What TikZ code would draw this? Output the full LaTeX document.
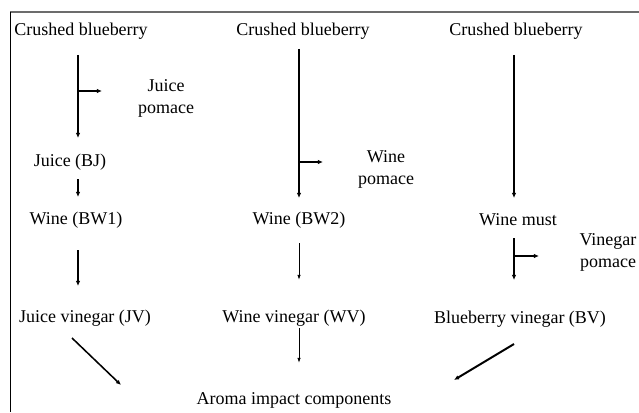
\documentclass[tikz,border=0pt]{standalone}
\usepackage{fontspec}
\setmainfont{Liberation Serif}
\usepackage{tikz}
\usetikzlibrary{arrows.meta,calc}

\tikzset{
  lbl/.style={font=\fontsize{12.8}{15.6}\selectfont, inner sep=0pt, align=center},
  flow/.style={-{Latex[length=3.6pt,width=3.2pt]}, line width=1.3pt},
  thinflow/.style={-{Latex[length=3.6pt,width=2.4pt]}, line width=0.6pt},
}

\begin{document}
\begin{tikzpicture}
          \useasboundingbox (0,0) rectangle (15.975,10.3);

          % Frame (top and left edge only)
          \draw[line width=1.4pt,gray!85!black] (0.25,10) -- (15.975,10);
          \draw[line width=0.7pt] (0.25,10) -- (0.25,0);

          % Starting material
          \foreach \n/\x in {cb1/2.025, cb2/7.575, cb3/12.9} {
              \node[lbl] (\n) at (\x,9.525) {Crushed blueberry};
          }

          % Products
          \node[lbl] (jp) at (4.15,7.85) {Juice\\pomace};
          \node[lbl] (bj) at (1.75,6.25) {Juice (BJ)};
          \node[lbl] (wp) at (9.65,6.075) {Wine\\pomace};
          \node[lbl] (bw1) at (1.9,4.8) {Wine (BW1)};
          \node[lbl] (bw2) at (7.475,4.8) {Wine (BW2)};
          \node[lbl] (wm) at (12.95,4.8) {Wine must};
          \node[lbl] (vp) at (15.2,4.0) {Vinegar\\pomace};
          \node[lbl] (jv) at (2.125,2.35) {Juice vinegar (JV)};
          \node[lbl] (wv) at (7.35,2.35) {Wine vinegar (WV)};
          \node[lbl] (bv) at (13.0,2.325) {Blueberry vinegar (BV)};
          \node[lbl] (aic) at (7.35,0.3) {Aroma impact components};

          % Arrow end points
          \foreach \n/\x/\y in {
              p1/1.95/8.925, p2/1.95/6.85, q1/1.95/8.025, q2/2.55/8.025,
            p3/1.95/5.825, p4/1.95/5.375, p5/1.95/4.05, p6/1.95/3.15,
            d1/1.8/1.85, d2/3.025/0.675,
            r1/7.475/9.075, r2/7.475/5.35, s1/7.475/6.25, s2/8.075/6.25,
            r3/7.475/4.225, r4/7.475/3.3, r5/7.475/2.1, r6/7.475/1.225,
            t1/12.85/8.925, t2/12.85/5.35, t3/12.85/4.35, t4/12.85/3.3,
            u1/12.85/3.9, u2/13.475/3.9,
            d3/12.85/1.7, d4/11.35/0.8
          } {
              \coordinate (\n) at (\x,\y);
          }

          % Juice route
          \draw[flow] (p1) -- (p2);
          \draw[flow,line width=1.4pt] (q1) -- (q2);
          \draw[flow] (p3) -- (p4);
          \draw[flow] (p5) -- (p6);
          \draw[flow,line width=1.1pt] (d1) -- (d2);

          % Wine route
          \draw[flow,line width=0.9pt] (r1) -- (r2);
          \draw[flow,line width=1.4pt] (s1) -- (s2);
          \draw[thinflow] (r3) -- (r4);
          \draw[thinflow] (r5) -- (r6);

          % Blueberry vinegar route
          \draw[flow] (t1) -- (t2);
          \draw[flow,line width=1pt] (t3) -- (t4);
          \draw[flow,line width=1.4pt] (u1) -- (u2);
          \draw[flow,line width=1.4pt] (d3) -- (d4);
      \end{tikzpicture}
\end{document}
